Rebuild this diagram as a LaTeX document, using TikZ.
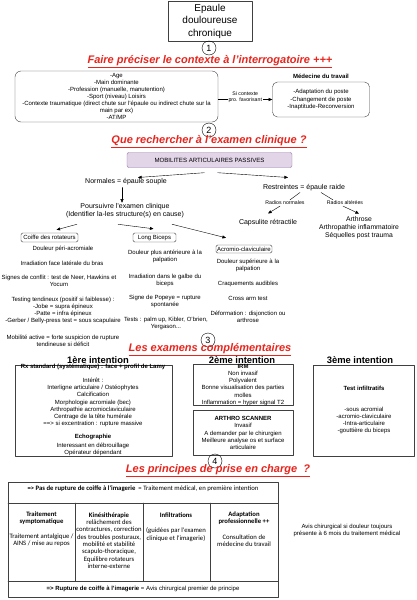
\documentclass[tikz,border=0pt]{standalone}
\usepackage{fontspec}
\setmainfont{Liberation Sans}
\newfontfamily\calib{Carlito}
\usepackage{tikz}
\usetikzlibrary{arrows,arrows.meta}

\definecolor{titlered}{RGB}{232,36,28}
\definecolor{mobfill}{RGB}{225,213,231}
\definecolor{mobdraw}{RGB}{150,115,166}

\tikzset{
  tiny/.style={font=\fontsize{6}{7.1}\selectfont, align=center, inner sep=0pt},
  tinyb/.style={font=\fontsize{6}{7.1}\selectfont\bfseries, align=center, inner sep=0pt},
  small/.style={font=\fontsize{7}{8.6}\selectfont, align=center, inner sep=0pt},
  wee/.style={font=\fontsize{5.2}{6}\selectfont, align=center, inner sep=0pt},
  heading/.style={font=\fontsize{11}{12}\selectfont\bfseries\itshape, text=titlered, inner sep=0pt},
  inttitle/.style={font=\fontsize{9.4}{10}\selectfont\bfseries, inner sep=0pt},
  numcirc/.style={circle, draw, minimum size=14pt, inner sep=0pt, font=\fontsize{9}{9}\selectfont},
  box/.style={draw=black!75, inner sep=0pt},
  tabtxt/.style={font=\calib\fontsize{6.7}{7.3}\selectfont, align=center, inner sep=0pt},
}

\begin{document}
\begin{tikzpicture}[line cap=round,line join=round,>={Triangle[length=3.6pt,width=3pt]},x=1pt,y=-1pt]
  \useasboundingbox (0,0) rectangle (417,600);

  % 1. interrogatoire
  \node[box, minimum width=84pt, minimum height=40pt, align=center,
        font=\fontsize{10}{12.5}\selectfont] (title) at (210,21) {Epaule\\douloureuse\\chronique};
  \node[numcirc] (n1) at (209,48) {1};
  \node[heading] (h1) at (210,62) {\underline{Faire préciser le contexte à l'interrogatoire +++}};
  \node[tiny, box, rounded corners=6pt, minimum width=203pt, minimum height=51pt] (ctx) at (116.5,96.5)
    {-Age\\-Main dominante\\-Profession (manuelle, manutention)\\-Sport (niveau) Loisirs\\-Contexte traumatique (direct chute sur l'épaule ou indirect chute sur la\\main par ex)\\-AT/MP};
  \node[tiny, box, rounded corners=5pt, minimum width=97pt, minimum height=35pt] (med) at (321,99.5)
    {-Adaptation du poste\\-Changement de poste\\-Inaptitude-Reconversion};
  \node[tinyb] (medt) at (321,76) {Médecine du travail};
  \draw[->] (ctx.east |- med.west) -- node[wee, fill=white, inner sep=1pt, yshift=2pt] {Si contexte\\pro. favorisant} (med.west);

  % 2. examen clinique
  \node[numcirc] (n2) at (209,130) {2};
  \node[heading] (h2) at (209,142) {\underline{Que rechercher à l'examen clinique ?}};
  \node[tiny, font=\fontsize{6.1}{7}\selectfont, draw=mobdraw, fill=mobfill, rounded corners=2pt, minimum width=165pt, minimum height=15pt] (mob) at (209.5,160) {MOBILITES ARTICULAIRES PASSIVES};
  \node[small] (norm) at (126,182) {Normales = épaule souple};
  \node[small] (restr) at (304,188) {Restreintes = épaule raide};
  \draw[->] ([shift={(-5,5)}]mob.south) -- ([shift={(12,-1)}]norm.north);
  \draw[->] ([shift={(8,5)}]mob.south) -- ([shift={(-16,-7)}]restr.north);
  \node[small] (pour) at (125,210.5) {Poursuivre l'examen clinique\\(Identifier la-les structure(s) en cause)};
  \coordinate (nd) at ([shift={(-4,2)}]norm.south);
  \draw[->] (nd) -- (nd |- pour.north);

  \node[tiny, box, rounded corners=1.5pt, minimum width=57pt, minimum height=9pt] (coiffe) at (49.5,237.5) {Coiffe des rotateurs};
  \node[tiny, box, rounded corners=1.5pt, minimum width=43pt, minimum height=9pt] (lb) at (154.5,237.5) {Long Biceps};
  \node[tiny, box, rounded corners=1.5pt, minimum width=56pt, minimum height=8pt] (ac) at (244,249) {Acromio-claviculaire};
  \draw[->] ([shift={(-48,6)}]pour.south) -- ([shift={(7,-3)}]coiffe.north);
  \draw[->] ([shift={(-7,6)}]pour.south) -- ([shift={(-1,-4)}]lb.north);
  \draw[->] ([shift={(47,6)}]pour.south) -- ([shift={(-18,-7)}]ac.north);

  \node[tiny] (c1) at (63,249) {Douleur péri-acromiale};
  \node[tiny] (c2) at (62,263) {Irradiation face latérale du bras};
  \node[tiny] (c3) at (59,280.5) {Signes de conflit : test de Neer, Hawkins et\\Yocum};
  \node[tiny] (c4) at (63,310.5) {Testing tendineux (positif si faiblesse) :\\-Jobe = supra épineux\\-Patte = infra épineux\\-Gerber / Belly-press test = sous scapulaire};
  \node[tiny] (c5) at (63,340.5) {Mobilité active = forte suspicion de rupture\\tendineuse si déficit};

  \node[tiny] (b1) at (165,256.5) {Douleur plus antérieure à la\\palpation};
  \node[tiny] (b2) at (165,280) {Irradiation dans le galbe du\\biceps};
  \node[tiny] (b3) at (165,301.5) {Signe de Popeye = rupture\\spontanée};
  \node[tiny] (b4) at (166,323.5) {Tests : palm up, Kibler, O'brien,\\Yergason...};

  \node[tiny] (a1) at (248,265.5) {Douleur supérieure à la\\palpation};
  \node[tiny] (a2) at (248,284) {Craquements audibles};
  \node[tiny] (a3) at (248,298) {Cross arm test};
  \node[tiny] (a4) at (248,316.5) {Déformation : disjonction ou\\arthrose};

  \node[wee] (rn) at (285,203) {Radios normales};
  \node[wee] (ra) at (345,203) {Radios altérées};
  \node[small] (caps) at (268,223) {Capsulite rétractile};
  \node[small, font=\fontsize{6.8}{8}\selectfont] (arth) at (359,228) {Arthrose\\Arthropathie inflammatoire\\Séquelles post trauma};
  \draw ([shift={(-4,1)}]restr.south) -- ([shift={(5,-1)}]rn.north);
  \draw[->] ([shift={(-5,1)}]rn.south) -- ([shift={(0,-6)}]caps.north);
  \draw ([shift={(17,1)}]restr.south) -- ([shift={(-12,-1)}]ra.north);
  \draw[->] ([shift={(-2,1)}]ra.south) -- ([shift={(0,-3)}]arth.north);

  % 3. examens complementaires
  \node[numcirc] (n3) at (208,340) {3};
  \node[heading] (h3) at (210,350) {\underline{Les examens complémentaires}};
  \node[inttitle] (i1) at (98,360) {1ère intention};
  \node[inttitle] (i2) at (242,360) {2ème intention};
  \node[inttitle] (i3) at (360,360) {3ème intention};

  \node[box, minimum width=157pt, minimum height=91pt] (rx) at (93.5,410.5) {};
  \node[tinyb] (rxt) at (93,367) {Rx standard (systématique) : face + profil de Lamy};
  \node[tiny] (rxi) at (93,402.5) {Intérêt :\\Interligne articulaire / Ostéophytes\\Calcification\\Morphologie acromiale (bec)\\Arthropathie acromioclaviculaire\\Centrage de la tête humérale\\==> si excentration : rupture massive};
  \node[tinyb] (echo) at (93,437) {Echographie};
  \node[tiny] (echot) at (93,449) {Interessant en débrouillage\\Opérateur dépendant};

  \node[box, tiny, minimum width=100pt, minimum height=41pt] (irm) at (243,385) {\textbf{IRM}\\Non invasif\\Polyvalent\\Bonne visualisation des parties\\molles\\Inflammation = hyper signal T2};
  \node[box, tiny, minimum width=100pt, minimum height=45pt] (arsc) at (243,433) {\textbf{ARTHRO SCANNER}\\Invasif\\A demander par le chirurgien\\Meilleure analyse os et surface\\articulaire};

  \node[box, minimum width=101pt, minimum height=91pt] (inf) at (364,410.5) {};
  \node[tinyb] (inft) at (364,388) {Test infiltratifs};
  \node[tiny] (infl) at (364,420.5) {-sous acromial\\-acromio-claviculaire\\-Intra-articulaire\\-gouttière du biceps};

  % 4. prise en charge
  \node[numcirc] (n4) at (215,461) {4};
  \node[heading] (h4) at (218,471) {\underline{Les principes de prise en charge\ \ ?}};

  \draw[black!75] (8,482) rectangle (278,597);
  \draw[black!75] (8,503) -- (278,503);
  \draw[black!75] (8,581) -- (278,581);
  \foreach \x in {75,143,210}
    \draw[black!75] (\x,503) -- (\x,581);

  \node[tabtxt] (r1) at (143,489) {\textbf{=> Pas de rupture de coiffe à l'imagerie}\ \ = Traitement médical, en première intention};
  \node[tabtxt] (t1) at (41.5,518.5) {\textbf{Traitement}\\\textbf{symptomatique}};
  \node[tabtxt] (t1b) at (41.5,540.5) {Traitement antalgique /\\AINS / mise au repos};
  \node[tabtxt] (t2) at (109,540.5) {\textbf{Kinésithérapie}\\relâchement des\\contractures, correction\\des troubles posturaux,\\mobilité et stabilité\\scapulo-thoracique,\\Equilibre rotateurs\\interne-externe};
  \node[tabtxt] (t3) at (176,515) {\textbf{Infiltrations}};
  \node[tabtxt] (t3b) at (176,534.5) {(guidées par l'examen\\clinique et l'imagerie)};
  \node[tabtxt] (t4) at (244,518.5) {\textbf{Adaptation}\\\textbf{professionnelle ++}};
  \node[tabtxt] (t4b) at (244,540.5) {Consultation de\\médecine du travail};
  \node[tiny] (r3) at (143,589) {\textbf{=> Rupture de coiffe à l'imagerie} = Avis chirurgical premier de principe};

  \node[tiny] (avis) at (347,530.5) {Avis chirurgical si douleur toujours\\présente à 6 mois du traitement médical};
\end{tikzpicture}
\end{document}
